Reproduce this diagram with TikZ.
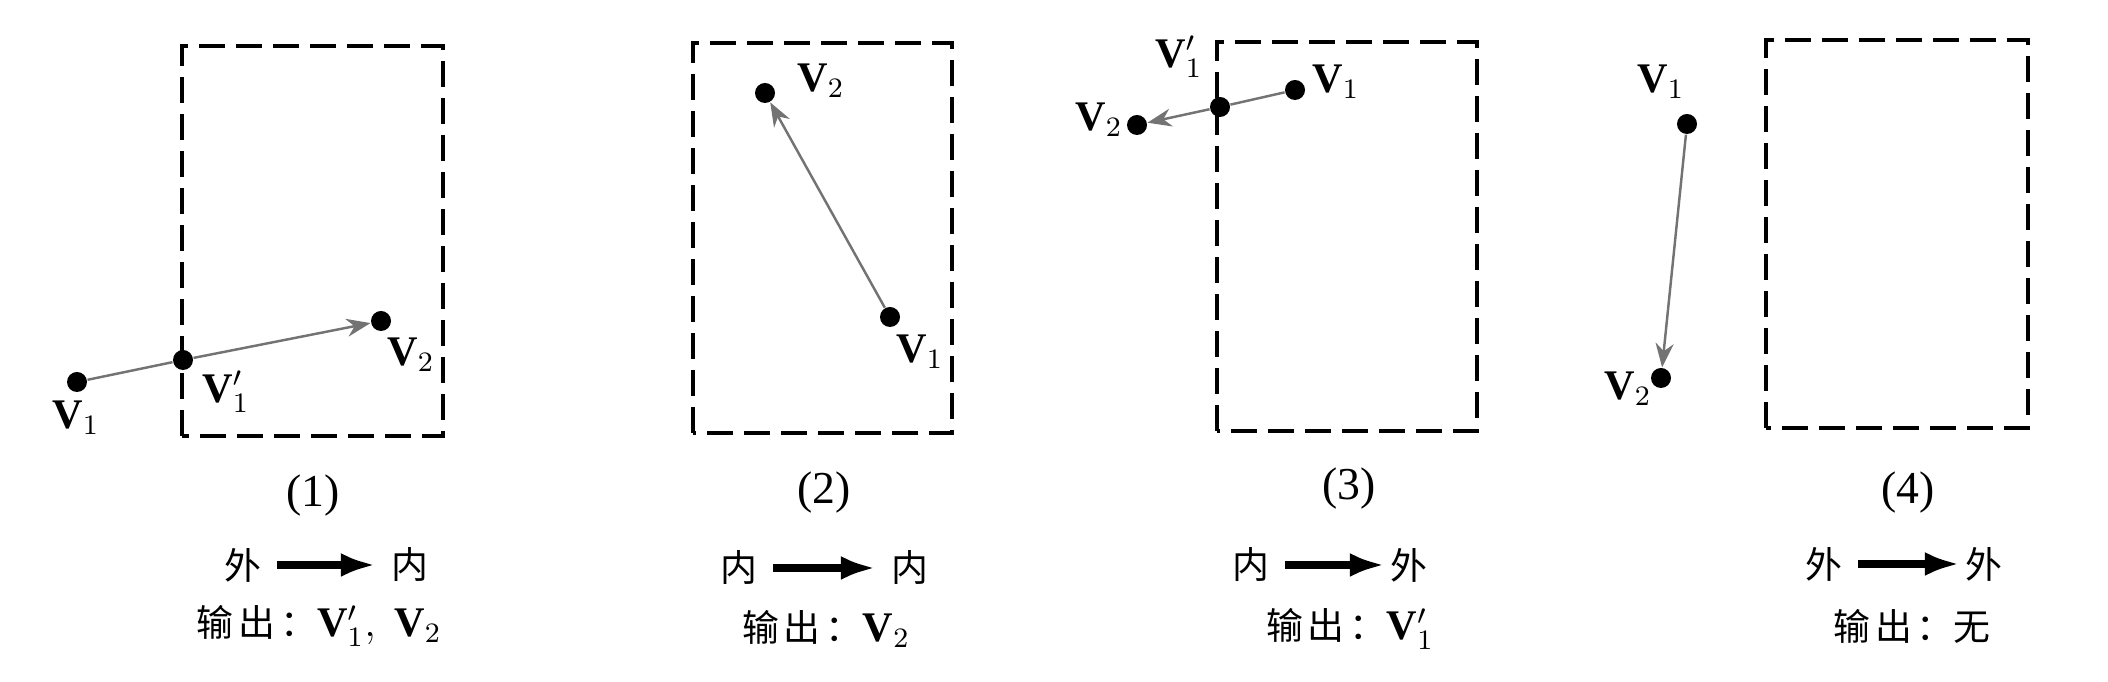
\documentclass[tikz,border=0pt]{standalone}
\usepackage{fontspec}
\setmainfont{Liberation Serif}
\newfontfamily\cjk{Noto Sans CJK SC}
\usetikzlibrary{arrows.meta}
\tikzset{
    clip box/.style = {draw, line width=1.1pt, dash pattern=on 2.6mm off 1.1mm},
    pt/.style = {circle, fill, inner sep=0pt, minimum size=2mm},
    seg/.style = {draw, black!55, line width=0.7pt},
    seg arrow/.style = {seg, -{Stealth[length=2.4mm,width=1.8mm]}},
    big arrow/.style = {draw, line width=2pt, -{Latex[length=3.5mm,width=2.4mm]}},
}
\tikzset{
    lbl/.style = {inner sep=0pt, font=\fontsize{12}{14}\selectfont},
    case label/.style = {inner sep=0pt, font=\fontsize{13}{15}\selectfont},
    zh/.style = {inner sep=0pt, font=\fontsize{10.5}{12}\selectfont\cjk},
    side/.style = {zh, inner sep=1.5mm},
}
\newcommand{\shuchu}{输\hspace{0.5mm}出\hspace{0.5mm}：}
\begin{document}
\begin{tikzpicture}
    \useasboundingbox (0,0) rectangle (21.08,6.82);

    % (1) outside -> inside
    \draw[clip box] (1.82,2.46) rectangle (4.43,6.36);
    \node[pt] (a1) at (0.77,3.00) {};
    \node[pt] (c1) at (1.83,3.22) {};
    \node[pt] (b1) at (3.81,3.61) {};
    \node[lbl] (la1) at (0.76,2.64) {$\mathbf{V}_1$};
    \node[lbl] (lc1) at (2.26,2.90) {$\mathbf{V}_1'$};
    \node[lbl] (lb1) at (4.11,3.27) {$\mathbf{V}_2$};
    \draw[seg] (a1) -- (c1);
    \draw[seg arrow] (c1) -- (b1);
    \node[case label] (cap1) at (3.13,1.86) {(1)};
    \node[side] (f1) at (2.43,1.17) {外};
    \node[side] (t1) at (4.10,1.17) {内};
    \draw[big arrow] (f1) -- (t1);
    \node[zh] (o1) at (3.19,0.56) {\shuchu{\fontsize{12}{14}\selectfont$\mathbf{V}_1',\;\mathbf{V}_2$}};

    % (2) inside -> inside
    \draw[clip box] (6.93,2.49) rectangle (9.52,6.39);
    \node[pt] (a2) at (8.90,3.65) {};
    \node[pt] (b2) at (7.65,5.89) {};
    \node[lbl] (la2) at (9.20,3.30) {$\mathbf{V}_1$};
    \node[lbl] (lb2) at (8.21,6.01) {$\mathbf{V}_2$};
    \draw[seg arrow] (a2) -- (b2);
    \node[case label] (cap2) at (8.24,1.89) {(2)};
    \node[side] (f2) at (7.39,1.14) {内};
    \node[side] (t2) at (9.10,1.14) {内};
    \draw[big arrow] (f2) -- (t2);
    \node[zh] (o2) at (8.26,0.53) {\shuchu{\fontsize{12}{14}\selectfont$\mathbf{V}_2$}};

    % (3) inside -> outside
    \draw[clip box] (12.17,2.51) rectangle (14.77,6.40);
    \node[pt] (a3) at (12.95,5.92) {};
    \node[pt] (c3) at (12.20,5.75) {};
    \node[pt] (b3) at (11.37,5.57) {};
    \node[lbl] (la3) at (13.36,6.00) {$\mathbf{V}_1$};
    \node[lbl] (lc3) at (11.79,6.25) {$\mathbf{V}_1'$};
    \node[lbl] (lb3) at (10.99,5.62) {$\mathbf{V}_2$};
    \draw[seg] (a3) -- (c3);
    \draw[seg arrow] (c3) -- (b3);
    \node[case label] (cap3) at (13.49,1.93) {(3)};
    \node[side] (f3) at (12.51,1.17) {内};
    \node[side] (t3) at (14.09,1.17) {外};
    \draw[big arrow, shorten >=-1mm] (f3) -- (t3);
    \node[zh] (o3) at (13.50,0.53) {\shuchu{\fontsize{12}{14}\selectfont$\mathbf{V}_1'$}};

    % (4) outside -> outside
    \draw[clip box] (17.66,2.54) rectangle (20.28,6.42);
    \node[pt] (a4) at (16.87,5.58) {};
    \node[pt] (b4) at (16.61,3.04) {};
    \node[lbl] (la4) at (16.61,6.00) {$\mathbf{V}_1$};
    \node[lbl] (lb4) at (16.28,2.93) {$\mathbf{V}_2$};
    \draw[seg arrow] (a4) -- (b4);
    \node[case label] (cap4) at (19.08,1.89) {(4)};
    \node[side] (f4) at (18.24,1.18) {外};
    \node[side] (t4) at (19.84,1.18) {外};
    \draw[big arrow, shorten >=-1mm] (f4) -- (t4);
    \node[zh] (o4) at (19.12,0.56) {\shuchu 无};
\end{tikzpicture}
\end{document}
